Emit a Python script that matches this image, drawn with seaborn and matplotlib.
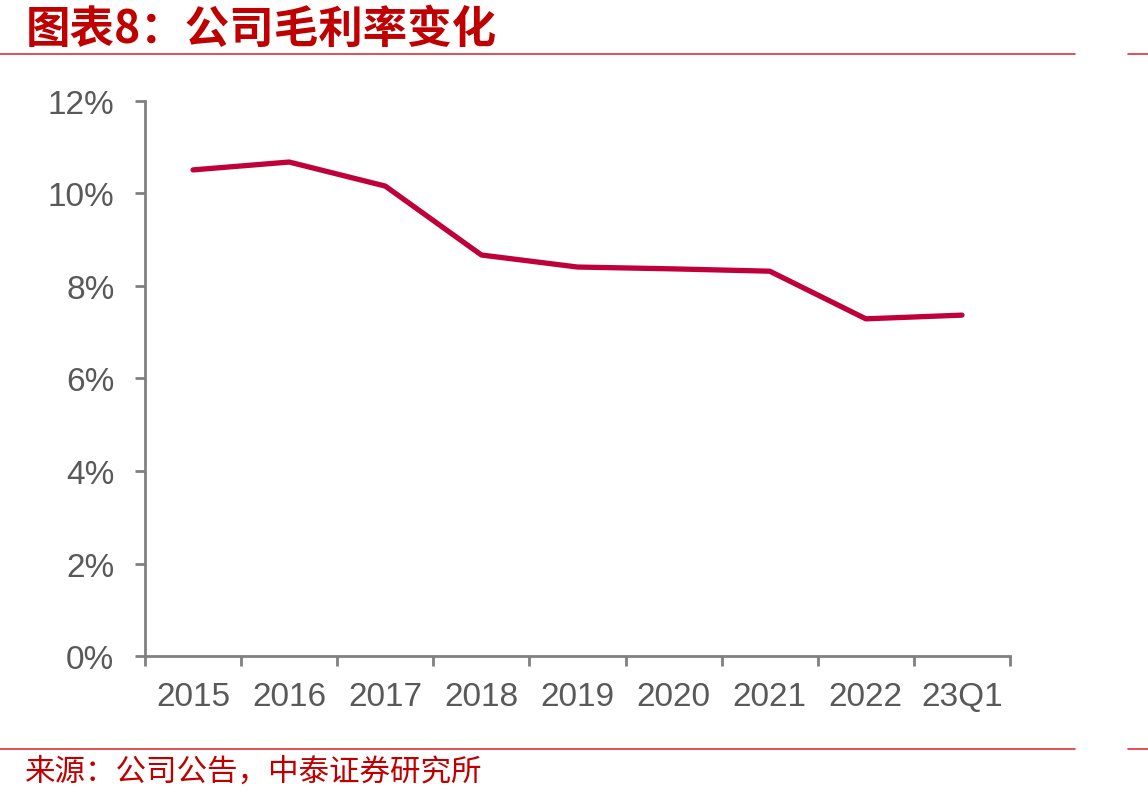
import matplotlib
matplotlib.use('Agg')
import matplotlib.pyplot as plt
import seaborn as sns
import pandas as pd
import numpy as np
from matplotlib.ticker import FixedLocator, PercentFormatter

# data (gross margin, %)
periods = ['2015', '2016', '2017', '2018', '2019', '2020', '2021', '2022', '23Q1']
margin = [10.51, 10.68, 10.16, 8.67, 8.41, 8.37, 8.32, 7.29, 7.37]

df = pd.DataFrame({'period': periods, 'margin': margin})

sns.set_theme(style='white')
plt.rcParams['font.family'] = ['Liberation Sans', 'Noto Sans CJK SC', 'DejaVu Sans']

fig = plt.figure(figsize=(11.48, 8.03), dpi=100)
ax = fig.add_axes([0.1263, 0.1818, 0.7535, 0.6912])

sns.lineplot(data=df, x='period', y='margin', ax=ax, color='#C0003A',
             linewidth=3.8, sort=False)

grey = '#808080'
ax.set_xlim(-0.5, len(periods) - 0.5)
ax.set_ylim(0, 12)
ax.yaxis.set_major_locator(FixedLocator(np.arange(0, 13, 2)))
ax.yaxis.set_major_formatter(PercentFormatter(decimals=0))
ax.xaxis.set_minor_locator(FixedLocator(np.arange(-0.5, len(periods), 1)))

for s in ['top', 'right']:
    ax.spines[s].set_visible(False)
for s in ['left', 'bottom']:
    ax.spines[s].set_color(grey)
    ax.spines[s].set_linewidth(2)

ax.tick_params(axis='x', which='major', length=0, pad=18, labelsize=24, labelcolor='#595959')
ax.tick_params(axis='x', which='minor', length=7, width=2, color=grey, direction='out', bottom=True)
ax.tick_params(axis='y', which='major', length=7, width=2, color=grey, direction='out', left=True,
               labelsize=24, labelcolor='#595959', pad=15)
ax.set_xlabel('')
ax.set_ylabel('')
ax.grid(False)

red = '#C00000'
cjk = ['Noto Sans CJK SC', 'DejaVu Sans']
fig.text(0.022, 0.963, '图表8：公司毛利率变化', fontsize=32, fontweight='bold',
         color=red, va='center', ha='left', family=cjk, style='italic')
fig.text(0.022, 0.038, '来源：公司公告，中泰证券研究所', fontsize=22, fontweight='light',
         color=red, va='center', ha='left', family=cjk)

# separator lines
line_c = '#E03038'
for y in [1 - 55 / 803, 1 - 750 / 803]:
    fig.add_artist(plt.Line2D([0, 1075 / 1148], [y, y], color=line_c, linewidth=1.2,
                              transform=fig.transFigure))
    fig.add_artist(plt.Line2D([1128 / 1148, 1], [y, y], color=line_c, linewidth=1.2,
                              transform=fig.transFigure))

fig.savefig('out.png', dpi=100)
